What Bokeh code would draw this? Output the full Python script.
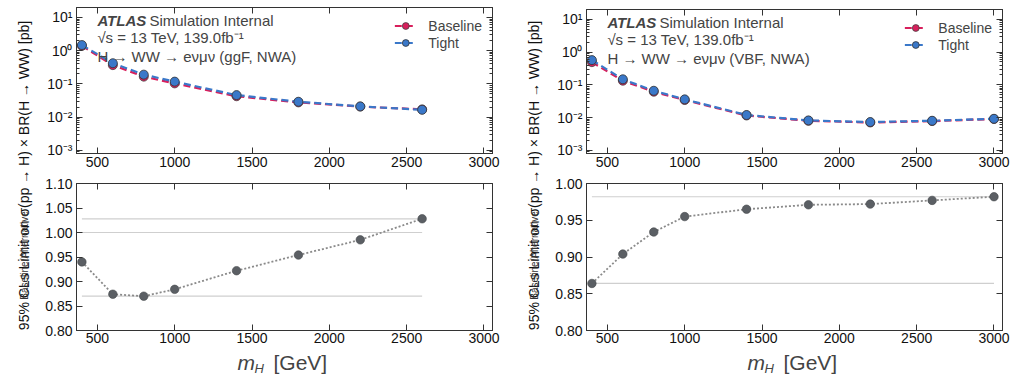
import math
from bokeh.plotting import figure
from bokeh.layouts import row, column
from bokeh.models import (Range1d, FixedTicker, CustomJSTickFormatter, PrintfTickFormatter,
                          LinearAxis, LogAxis, Label, Legend, LegendItem, ColumnDataSource)
from bokeh.embed import file_html
from bokeh.resources import INLINE

# ---------------- data ----------------
mass_ggf = [400, 600, 800, 1000, 1400, 1800, 2200, 2600]
tight_ggf = [1.48, 0.42, 0.19, 0.117, 0.046, 0.029, 0.021, 0.0166]
ratio_ggf = [0.940, 0.874, 0.870, 0.884, 0.922, 0.954, 0.985, 1.028]
baseline_ggf = [t * r for t, r in zip(tight_ggf, ratio_ggf)]

mass_vbf = [400, 600, 800, 1000, 1400, 1800, 2200, 2600, 3000]
tight_vbf = [0.57, 0.148, 0.066, 0.036, 0.012, 0.0082, 0.0073, 0.0080, 0.0092]
ratio_vbf = [0.864, 0.904, 0.934, 0.955, 0.965, 0.971, 0.972, 0.977, 0.982]
baseline_vbf = [t * r for t, r in zip(tight_vbf, ratio_vbf)]

x_ticks = [500, 1000, 1500, 2000, 2500, 3000]
log_ticks = [1e-3, 1e-2, 1e-1, 1e0, 1e1]
ratio_ticks_ggf = [0.80, 0.85, 0.90, 0.95, 1.00, 1.05, 1.10]
ratio_ticks_vbf = [0.80, 0.85, 0.90, 0.95, 1.00]

channel_ggf = "H \u2192 WW \u2192 e\u03bd\u03bc\u03bd (ggF, NWA)"
channel_vbf = "H \u2192 WW \u2192 e\u03bd\u03bc\u03bd (VBF, NWA)"

# ---------------- style ----------------
FONT = "Liberation Sans"
C_BASE = "#d81f5c"
C_TIGHT = "#3a78c9"
C_RATIO = "#5b5f64"
XR = (365, 3055)
YR_LOG = (8e-4, 20)

minor_log = []
for e in range(-4, 2):
    for k in range(2, 10):
        minor_log.append(k * 10 ** e)

sup_js = """
const e = Math.round(Math.log10(tick));
const sup = {'-':'\u207b','0':'\u2070','1':'\u00b9','2':'\u00b2','3':'\u00b3','4':'\u2074'};
return '10' + String(e).split('').map(c => sup[c]).join('');
"""


def style_axis(ax, labels=True):
    ax.axis_line_color = "#333333"
    ax.major_tick_in = 6
    ax.major_tick_out = 0
    ax.minor_tick_in = 3
    ax.minor_tick_out = 0
    ax.major_tick_line_color = "#333333"
    ax.minor_tick_line_color = "#333333"
    ax.major_label_text_font = FONT
    ax.major_label_text_font_size = "14px"
    ax.major_label_text_color = "#111111"
    ax.major_label_standoff = 4
    if not labels:
        ax.major_label_text_font_size = "0px"
        ax.major_label_standoff = 0
        ax.major_label_text_color = None


def top_panel(mass, tight, base, channel, width, bl, br, bt):
    p = figure(width=width, height=175, y_axis_type="log", output_backend="svg",
               toolbar_location=None, x_range=Range1d(*XR), y_range=Range1d(*YR_LOG),
               min_border_left=bl, min_border_right=br, min_border_top=bt, min_border_bottom=22)
    p.grid.visible = False
    p.outline_line_color = "#333333"
    p.xaxis.ticker = FixedTicker(ticks=x_ticks, minor_ticks=[])
    p.yaxis.ticker = FixedTicker(ticks=log_ticks, minor_ticks=minor_log)
    p.yaxis.formatter = CustomJSTickFormatter(code=sup_js)
    style_axis(p.xaxis[0])
    style_axis(p.yaxis[0])
    p.xaxis.major_label_standoff = 3
    ra = LogAxis(ticker=FixedTicker(ticks=log_ticks, minor_ticks=minor_log))
    style_axis(ra, labels=False)
    p.add_layout(ra, "right")
    ta = LinearAxis(ticker=FixedTicker(ticks=x_ticks, minor_ticks=[]))
    style_axis(ta, labels=False)
    p.add_layout(ta, "above")

    src_b = ColumnDataSource(dict(x=mass, y=base))
    src_t = ColumnDataSource(dict(x=mass, y=tight))
    lb = p.line("x", "y", source=src_b, color=C_BASE, line_width=2.2, line_dash="7 4")
    sb = p.scatter("x", "y", source=src_b, size=9, fill_color=C_BASE, line_color="#444444", line_width=0.8)
    lt = p.line("x", "y", source=src_t, color=C_TIGHT, line_width=2.2, line_dash="7 4")
    st = p.scatter("x", "y", source=src_t, size=9, fill_color=C_TIGHT, line_color="#333333", line_width=0.8)

    leg = Legend(items=[LegendItem(label="Baseline", renderers=[lb, sb]),
                        LegendItem(label="Tight", renderers=[lt, st])],
                 location="top_right", border_line_color=None, background_fill_alpha=0,
                 label_text_font=FONT, label_text_font_size="14px", glyph_width=22,
                 label_standoff=12, spacing=0, padding=4, margin=10, label_height=17, glyph_height=17)
    p.add_layout(leg)

    p.add_layout(Label(x=500, y=8.0, text="ATLAS", text_font=FONT, text_font_size="15px",
                       text_font_style="bold italic", text_baseline="middle"))
    p.add_layout(Label(x=500, y=8.0, x_offset=52, text="Simulation Internal", text_font=FONT,
                       text_font_size="15px", text_baseline="middle"))
    p.add_layout(Label(x=500, y=2.45, text="\u221as = 13 TeV, 139.0fb\u207b\u00b9", text_font=FONT,
                       text_font_size="15px", text_baseline="middle"))
    p.add_layout(Label(x=500, y=0.66, text=channel, text_font=FONT,
                       text_font_size="15px", text_baseline="middle"))
    return p


def ratio_panel(mass, ratio, yr, yt, width, bl, br):
    p = figure(width=width, height=173, output_backend="svg", toolbar_location=None,
               x_range=Range1d(*XR), y_range=Range1d(*yr),
               min_border_left=bl, min_border_right=br, min_border_top=8, min_border_bottom=18)
    p.grid.visible = False
    p.outline_line_color = "#333333"
    p.xaxis.ticker = FixedTicker(ticks=x_ticks, minor_ticks=[])
    p.yaxis.ticker = FixedTicker(ticks=yt, minor_ticks=[])
    p.yaxis.formatter = PrintfTickFormatter(format="%.2f")
    style_axis(p.xaxis[0])
    style_axis(p.yaxis[0])
    p.xaxis.major_label_standoff = 2
    ra = LinearAxis(ticker=FixedTicker(ticks=yt, minor_ticks=[]))
    style_axis(ra, labels=False)
    p.add_layout(ra, "right")
    ta = LinearAxis(ticker=FixedTicker(ticks=x_ticks, minor_ticks=[]))
    style_axis(ta, labels=False)
    p.add_layout(ta, "above")

    lo, hi = min(mass), max(mass)
    refs = [max(ratio), 1.0, min(ratio)]
    p.segment(x0=[lo] * 3, x1=[hi] * 3, y0=refs, y1=refs, line_color="#cfcfcf", line_width=1.2)
    p.line(mass, ratio, line_color="#8a8a8a", line_width=1.8, line_dash="2 2")
    p.scatter(mass, ratio, size=8.5, fill_color=C_RATIO, line_color="#44484c", line_width=0.6)
    return p


def xlabel_fig(width, bl, br):
    # strip below the ratio panel holding the axis title
    f = figure(width=width, height=29, output_backend="svg", toolbar_location=None,
               x_range=Range1d(*XR), y_range=Range1d(0, 29),
               min_border_left=bl, min_border_right=br, min_border_top=0, min_border_bottom=0,
               outline_line_color=None)
    f.axis.visible = False
    f.grid.visible = False
    f.add_layout(Label(x=1406, y=15, text="m", text_font=FONT, text_font_size="21px",
                       text_font_style="italic", text_baseline="middle"))
    f.add_layout(Label(x=1406, y=9, x_offset=17, text="H", text_font=FONT, text_font_size="13px",
                       text_font_style="italic", text_baseline="middle"))
    f.add_layout(Label(x=1406, y=15, x_offset=36, text="[GeV]", text_font=FONT, text_font_size="21px",
                       text_baseline="middle"))
    return f


def label_fig(width, xc):
    f = figure(width=width, height=377, output_backend="svg", toolbar_location=None,
               x_range=Range1d(0, width), y_range=Range1d(0, 377),
               min_border=0, outline_line_color=None)
    f.axis.visible = False
    f.grid.visible = False
    f.add_layout(Label(x=xc, y=202, angle=math.pi / 2, text_align="center", text_baseline="middle",
                       text="95% CLs Limit on \u03c3(pp \u2192 H) \u00d7 BR(H \u2192 WW) [pb]",
                       text_font=FONT, text_font_size="14px", text_color="#111111"))
    f.add_layout(Label(x=xc + 1, y=122, angle=math.pi / 2, text_align="center", text_baseline="middle",
                       text="Baseline/Alternative", text_font=FONT, text_font_size="10px",
                       text_color="#333333"))
    return f


lab_l = label_fig(38, 23)
top_l = top_panel(mass_ggf, tight_ggf, baseline_ggf, channel_ggf, 462, 38, 8, 7)
bot_l = ratio_panel(mass_ggf, ratio_ggf, (0.80, 1.10), ratio_ticks_ggf, 462, 38, 8)
xl_l = xlabel_fig(462, 38, 8)
lab_r = label_fig(48, 33)
top_r = top_panel(mass_vbf, tight_vbf, baseline_vbf, channel_vbf, 464, 38, 10, 9)
bot_r = ratio_panel(mass_vbf, ratio_vbf, (0.80, 1.00), ratio_ticks_vbf, 464, 38, 10)
xl_r = xlabel_fig(464, 38, 10)

layout = row(lab_l, column(top_l, bot_l, xl_l, spacing=0), lab_r,
             column(top_r, bot_r, xl_r, spacing=0), spacing=0)

open("out.html", "w").write(file_html(layout, INLINE))
